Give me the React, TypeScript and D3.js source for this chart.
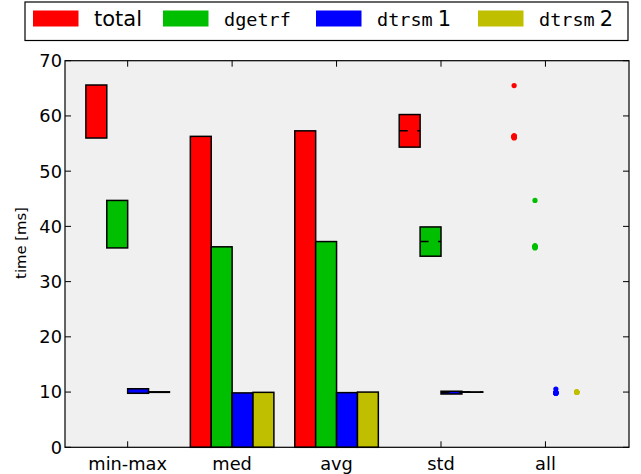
import React from "react";
import * as d3 from "d3";

// ---- data ----
const groups = ["min-max", "med", "avg", "std", "all"];
const seriesNames = ["total", "dgetrf", "dtrsm 1", "dtrsm 2"];
const seriesColors = ["#ff0000", "#00bf00", "#0000ff", "#bfbf00"];

const minVals = [56.0, 36.1, 9.78, 9.95];
const maxVals = [65.6, 44.7, 10.6, 10.05];
const medVals = [56.3, 36.3, 9.85, 9.95];
const avgVals = [57.3, 37.25, 9.9, 10.0];
const stdVals = [2.95, 2.65, 0.25, 0.03];

const totalPts = [65.5, 56.0, 56.1, 56.2, 56.2, 56.3, 56.3, 56.4, 56.4];
const dgetrfPts = [44.7, 36.1, 36.2, 36.3, 36.3, 36.3, 36.4, 36.4, 36.5];
const dtrsm1Pts = [10.55, 9.8, 9.8, 9.85, 9.85, 9.85, 9.9, 9.9, 9.9];
const dtrsm2Pts = [10.05, 9.95, 9.95, 9.98, 10.0, 10.0, 10.0, 10.0, 10.0];
const allPts = [totalPts, dgetrfPts, dtrsm1Pts, dtrsm2Pts];

const yTicks = [0, 10, 20, 30, 40, 50, 60, 70];

// ---- layout ----
const W = 641;
const H = 474;
const AX = { left: 65, right: 629, top: 60.7, bottom: 447.3 };
const BAR_W = 0.2;
const SANS = "DejaVu Sans, sans-serif";
const MONO = "DejaVu Sans Mono, monospace";

export default function App() {
  const x = d3.scaleLinear().domain([-0.6, 4.8]).range([AX.left, AX.right]);
  const y = d3.scaleLinear().domain([0, 70]).range([AX.bottom, AX.top]);
  const bw = x(BAR_W) - x(0);
  const slot = (g: number, j: number) => x(g - 0.4 + BAR_W * j);
  const edge = { stroke: "#000", strokeWidth: 1.5 };

  const legendX = [33, 163, 316, 478];

  return (
    <svg width={W} height={H} style={{ position: "absolute", left: 0, top: 0, background: "#fff" }}>
      <rect x={0} y={0} width={W} height={H} fill="#fff" />
      {/* axes background */}
      <rect x={AX.left} y={AX.top} width={AX.right - AX.left} height={AX.bottom - AX.top} fill="#f0f0f0" />

      {/* min-max */}
      {seriesNames.map((s, j) => (
        <rect key={"mm" + s} x={slot(0, j)} width={bw} y={y(maxVals[j])}
          height={y(minVals[j]) - y(maxVals[j])} fill={seriesColors[j]} {...edge} />
      ))}
      {/* med */}
      {seriesNames.map((s, j) => (
        <rect key={"med" + s} x={slot(1, j)} width={bw} y={y(medVals[j])}
          height={y(0) - y(medVals[j])} fill={seriesColors[j]} {...edge} />
      ))}
      {/* avg */}
      {seriesNames.map((s, j) => (
        <rect key={"avg" + s} x={slot(2, j)} width={bw} y={y(avgVals[j])}
          height={y(0) - y(avgVals[j])} fill={seriesColors[j]} {...edge} />
      ))}
      {/* std */}
      {seriesNames.map((s, j) => (
        <g key={"std" + s}>
          <rect x={slot(3, j)} width={bw} y={y(avgVals[j] + stdVals[j])}
            height={y(avgVals[j] - stdVals[j]) - y(avgVals[j] + stdVals[j])}
            fill={seriesColors[j]} {...edge} />
          <line x1={slot(3, j)} x2={slot(3, j) + bw} y1={y(avgVals[j])} y2={y(avgVals[j])}
            stroke="#000" strokeWidth={1.5} strokeDasharray="8.5,9.5" />
        </g>
      ))}
      {/* all */}
      {allPts.map((pts, j) =>
        pts.map((p, k) => (
          <circle key={"pt" + j + "-" + k} cx={slot(4, j) + bw / 2} cy={y(p)} r={2.6} fill={seriesColors[j]} />
        ))
      )}

      {/* frame */}
      <rect x={AX.left} y={AX.top} width={AX.right - AX.left} height={AX.bottom - AX.top}
        fill="none" stroke="#000" strokeWidth={1.2} />

      {/* y ticks */}
      {yTicks.map((t) => (
        <g key={"yt" + t}>
          <line x1={AX.left} x2={AX.left + 6} y1={y(t)} y2={y(t)} stroke="#000" strokeWidth={1} />
          <line x1={AX.right} x2={AX.right - 6} y1={y(t)} y2={y(t)} stroke="#000" strokeWidth={1} />
          <text x={62} y={y(t)} dy="0.36em" textAnchor="end" fontFamily={SANS} fontSize={17.8} fill="#000">
            {t}
          </text>
        </g>
      ))}
      {/* x ticks */}
      {groups.map((g, i) => (
        <g key={"xt" + g}>
          <line x1={x(i)} x2={x(i)} y1={AX.bottom} y2={AX.bottom - 6} stroke="#000" strokeWidth={1} />
          <line x1={x(i)} x2={x(i)} y1={AX.top} y2={AX.top + 6} stroke="#000" strokeWidth={1} />
          <text x={x(i)} y={470} textAnchor="middle" fontFamily={SANS} fontSize={17.8} fill="#000">
            {g}
          </text>
        </g>
      ))}

      {/* y label */}
      <text transform={`translate(26,243) rotate(-90)`} textAnchor="middle" fontFamily={SANS}
        fontSize={14.8} fill="#000">
        time [ms]
      </text>

      {/* legend */}
      <rect x={25} y={2} width={603} height={38.5} fill="#fff" stroke="#000" strokeWidth={1.2} />
      {seriesNames.map((s, j) => {
        const lx = legendX[j];
        const tx = lx + 61;
        const parts = s.split(" ");
        return (
          <g key={"lg" + s}>
            <rect x={lx} y={10.5} width={45.5} height={16} fill={seriesColors[j]} />
            {j === 0 ? (
              <text x={tx} y={25.7} fontFamily={SANS} fontSize={21} fill="#000">{s}</text>
            ) : (
              <text x={tx} y={25.7} fill="#000">
                <tspan fontFamily={MONO} fontSize={18.5}>{parts[0]}</tspan>
                {parts[1] ? (
                  <tspan fontFamily={SANS} fontSize={21} dx={5}>{parts[1]}</tspan>
                ) : null}
              </text>
            )}
          </g>
        );
      })}
    </svg>
  );
}
